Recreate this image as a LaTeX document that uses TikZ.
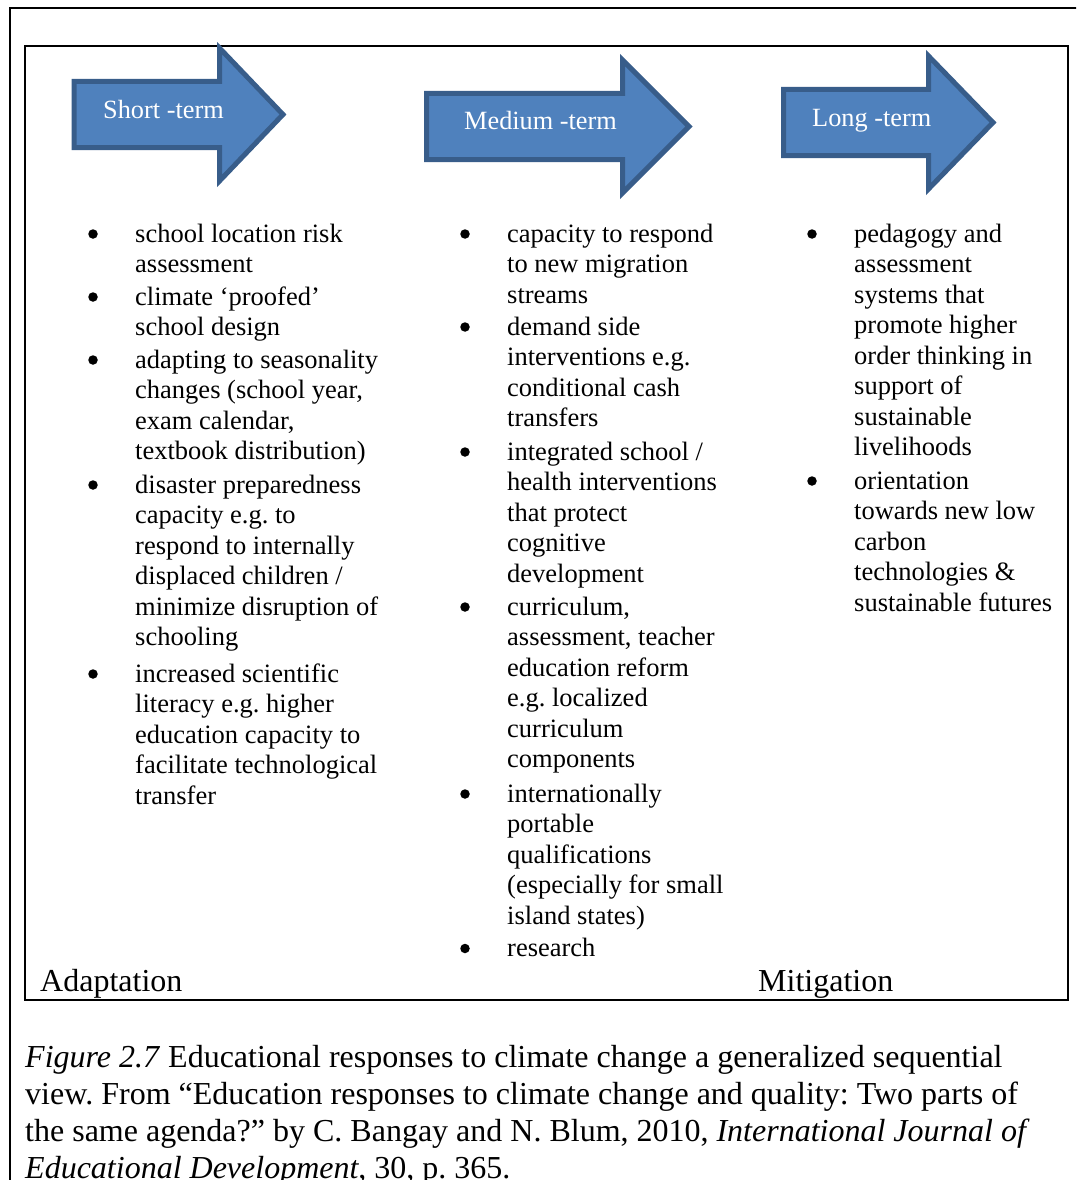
\documentclass[tikz,border=0pt]{standalone}
\usepackage{fontspec}
\setmainfont{Liberation Serif}
\definecolor{arrowfill}{HTML}{4F81BD}
\definecolor{arrowline}{HTML}{385D8A}
\newcommand{\itemlines}[1]{\begin{tabular}[t]{@{}l@{}}#1\end{tabular}}
\begin{document}
\frenchspacing
\begin{tikzpicture}[x=1pt,y=-1pt,
  body/.style={font=\fontsize{26.5}{30.5}\selectfont\frenchspacing, anchor=base west, inner sep=0pt},
  bul/.style={circle, fill=black, inner sep=0pt, minimum size=9.5pt},
  big/.style={font=\fontsize{32}{37}\selectfont\frenchspacing, anchor=base west, inner sep=0pt},
  frame/.style={draw=black, line width=2pt},
  arrowshape/.style={fill=arrowfill, draw=arrowline, line width=5pt, line join=miter},
  arrowtext/.style={font=\fontsize{26.3}{30}\selectfont, text=white, anchor=base west, inner sep=0pt}]
\useasboundingbox (0,0) rectangle (1076,1180);
\clip (0,0) rectangle (1076,1180);
\fill[white] (0,0) rectangle (1076,1180);
% frames
\draw[frame] (10,8) rectangle (1100,1220);
\draw[frame] (25,46) rectangle (1068,1000);
% arrows
\draw[arrowshape] (74,81.5) -- (219.5,81.5) -- (219.5,48) -- (283,114.5) -- (219.5,181) -- (219.5,147.5) -- (74,147.5) -- cycle;
\draw[arrowshape] (426.5,93.5) -- (622.5,93.5) -- (622.5,60) -- (689,126.5) -- (622.5,193) -- (622.5,159.5) -- (426.5,159.5) -- cycle;
\draw[arrowshape] (783.5,89.5) -- (928.5,89.5) -- (928.5,56) -- (993,122.5) -- (928.5,189) -- (928.5,155.5) -- (783.5,155.5) -- cycle;
\node[arrowtext] (tshort) at (103,118) {Short -term};
\node[arrowtext] (tmed) at (464,130) {Medium -term};
\node[arrowtext] (tlong) at (812,127) {Long -term};
% column 1
\node[bul] (b11) at (93,234) {};
\node[body] (i11) at (135,242) {\itemlines{school location risk\\assessment}};
\node[bul] (b12) at (93,297) {};
\node[body] (i12) at (135,305) {\itemlines{climate ‘proofed’\\school design}};
\node[bul] (b13) at (93,360) {};
\node[body] (i13) at (135,368) {\itemlines{adapting to seasonality\\changes (school year,\\exam calendar,\\textbook distribution)}};
\node[bul] (b14) at (93,485) {};
\node[body] (i14) at (135,493) {\itemlines{disaster preparedness\\capacity e.g. to\\respond to internally\\displaced children /\\minimize disruption of\\schooling}};
\node[bul] (b15) at (93,674) {};
\node[body] (i15) at (135,682) {\itemlines{increased scientific\\literacy e.g. higher\\education capacity to\\facilitate technological\\transfer}};
% column 2
\node[bul] (b21) at (465,234) {};
\node[body] (i21) at (507,242) {\itemlines{capacity to respond\\to new migration\\streams}};
\node[bul] (b22) at (465,327) {};
\node[body] (i22) at (507,335) {\itemlines{demand side\\interventions e.g.\\conditional cash\\transfers}};
\node[bul] (b23) at (465,452) {};
\node[body] (i23) at (507,460) {\itemlines{integrated school /\\health interventions\\that protect\\cognitive\\development}};
\node[bul] (b24) at (465,607) {};
\node[body] (i24) at (507,615) {\itemlines{curriculum,\\assessment, teacher\\education reform\\e.g. localized\\curriculum\\components}};
\node[bul] (b25) at (465,794) {};
\node[body] (i25) at (507,802) {\itemlines{internationally\\portable\\qualifications\\(especially for small\\island states)}};
\node[bul] (b26) at (465,948.5) {};
\node[body] (i26) at (507,956) {research};
% column 3
\node[bul] (b31) at (812,234) {};
\node[body] (i31) at (854,242) {\itemlines{pedagogy and\\assessment\\systems that\\promote higher\\order thinking in\\support of\\sustainable\\livelihoods}};
\node[bul] (b32) at (812,481) {};
\node[body] (i32) at (854,489) {\itemlines{orientation\\towards new low\\carbon\\technologies \&\\sustainable futures}};
% bottom labels
\node[big] (adapt) at (40,991) {Adaptation};
\node[big] (mitig) at (758,991) {Mitigation};
% caption
\node[big] (cap1) at (25,1067) {\textit{Figure 2.7} Educational responses to climate change a generalized sequential};
\node[big] (cap2) at (25,1104) {view. From “Education responses to climate change and quality: Two parts of};
\node[big] (cap3) at (25,1141) {the same agenda?” by C. Bangay and N. Blum, 2010, \textit{International Journal of}};
\node[big] (cap4) at (25,1178) {\textit{Educational Development}, 30, p. 365.};
\end{tikzpicture}
\end{document}
